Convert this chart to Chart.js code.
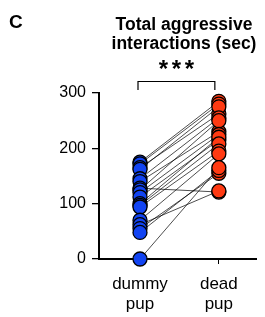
<!DOCTYPE html>
<html>
<head>
<meta charset="utf-8">
<script src="https://cdn.jsdelivr.net/npm/chart.js@4/dist/chart.umd.min.js"></script>
<style>
  html, body { margin: 0; padding: 0; background: #fff; }
  #wrap { width: 265px; height: 317px; }
</style>
</head>
<body>
<div id="wrap"><canvas id="chart" width="265" height="317"></canvas></div>
<script>
// categories and tick labels
const categories = [['dummy', 'pup'], ['dead', 'pup']];
const yTicks = [0, 100, 200, 300];

// per-animal values (sec); same index = same animal
const dummyPup = [175, 172, 165, 162, 145, 140, 128, 125, 120, 112, 100, 97, 94, 70, 62, 55, 48, 0];
const deadPup  = [285, 280, 262, 275, 255, 230, 121, 250, 225, 215, 220, 208, 195, 190, 123, 155, 160, 165];

const titleLines = ['Total aggressive', 'interactions (sec)'];
const panelLetter = 'C';
const sigLabel = '***';

const BLUE = '#1244f2';
const RED = '#ff3a12';
const FONT = '"Liberation Sans", Arial, Helvetica, sans-serif';

// one thin black line per animal
const pairLines = dummyPup.map((v, i) => ({
  type: 'line',
  data: [{ x: 0, y: v }, { x: 1, y: deadPup[i] }],
  borderColor: '#000',
  borderWidth: 0.7,
  pointRadius: 0,
  order: 2,
  clip: false
}));

const dots = (values, xPos, color) => ({
  type: 'scatter',
  data: values.map(v => ({ x: xPos, y: v })),
  backgroundColor: color,
  borderColor: '#000',
  borderWidth: 1.3,
  pointRadius: 7,
  pointHoverRadius: 7,
  order: 1,
  clip: false
});

// title, panel letter, bracket and stars
const annotations = {
  id: 'annotations',
  afterDraw(chart) {
    const ctx = chart.ctx;
    const xs = chart.scales.x;
    ctx.save();
    ctx.fillStyle = '#000';
    ctx.textBaseline = 'alphabetic';

    ctx.font = 'bold 19px ' + FONT;
    ctx.textAlign = 'left';
    ctx.fillText(panelLetter, 9, 28);

    ctx.font = 'bold 17.5px ' + FONT;
    ctx.textAlign = 'center';
    ctx.fillText(titleLines[0], 184, 30);
    ctx.fillText(titleLines[1], 184, 49);

    // bracket between the two groups
    const x0 = xs.getPixelForValue(0) - 2;
    const x1 = xs.getPixelForValue(1) - 4;
    ctx.strokeStyle = '#000';
    ctx.lineWidth = 1.2;
    ctx.beginPath();
    ctx.moveTo(x0, 90);
    ctx.lineTo(x0, 81.5);
    ctx.lineTo(x1, 81.5);
    ctx.lineTo(x1, 90);
    ctx.stroke();

    ctx.font = 'bold 24px ' + FONT;
    const mid = (x0 + x1) / 2;
    sigLabel.split('').forEach((s, i) => {
      ctx.fillText(s, mid + (i - 1) * 13, 77);
    });
    ctx.restore();
  }
};

new Chart(document.getElementById('chart'), {
  data: {
    datasets: [dots(dummyPup, 0, BLUE), dots(deadPup, 1, RED), ...pairLines]
  },
  options: {
    responsive: false,
    animation: false,
    events: [],
    layout: { padding: { top: 93, right: 1, left: 0, bottom: 0 } },
    plugins: {
      legend: { display: false },
      tooltip: { enabled: false }
    },
    scales: {
      x: {
        type: 'linear',
        min: -0.52,
        max: 1.48,
        z: 1,
        afterBuildTicks: scale => { scale.ticks = categories.map((c, i) => ({ value: i })); },
        afterFit: scale => { scale.height = 58; },
        grid: { display: true, drawOnChartArea: false, drawTicks: true, tickLength: 5, color: '#000', lineWidth: 1 },
        border: { display: true, color: '#000', width: 2 },
        ticks: {
          color: '#000',
          padding: 10,
          maxRotation: 0,
          autoSkip: false,
          font: { family: FONT, size: 17, lineHeight: 1.2 },
          callback: (v) => categories[v]
        }
      },
      y: {
        min: 0,
        max: 300,
        afterBuildTicks: scale => { scale.ticks = yTicks.map(v => ({ value: v })); },
        afterFit: scale => { scale.width = 99; },
        grid: { display: true, drawOnChartArea: false, drawTicks: true, tickLength: 7, color: '#000', lineWidth: 1.3 },
        border: { display: true, color: '#000', width: 2 },
        ticks: {
          color: '#000',
          padding: 6,
          font: { family: FONT, size: 16 }
        }
      }
    }
  },
  plugins: [annotations]
});
</script>
</body>
</html>
